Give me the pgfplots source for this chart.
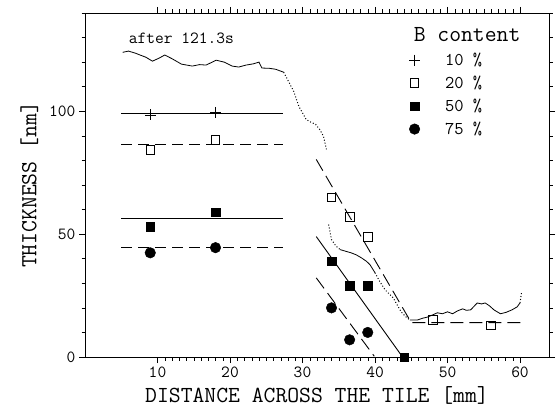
\documentclass[border=0pt]{standalone}
\usepackage{pgfplots}
\pgfplotsset{compat=1.18}

\begin{document}
\begin{tikzpicture}
\begin{axis}[
  scale only axis,
  width=464pt, height=344pt,
  xmin=0, xmax=64, ymin=0, ymax=140,
  xtick={10,20,...,60}, minor x tick num=9,
  ytick={0,50,100}, minor ytick={10,20,...,140},
  tick align=outside, tick pos=both,
  xticklabel pos=bottom, yticklabel pos=left,
  major tick length=6pt, minor tick length=3.5pt,
  axis line style={line width=0.6pt},
  every tick/.style={black, line width=0.5pt},
  /pgf/number format/assume math mode=true,
  ticklabel style={font=\ttfamily\fontsize{17}{17}\selectfont},
  label style={font=\ttfamily\fontsize{23}{23}\selectfont},
  xlabel={DISTANCE ACROSS THE TILE [mm]},
  ylabel={THICKNESS [nm]},
  xlabel style={yshift=-2pt},
  ylabel style={yshift=4pt},
  legend style={draw=none, fill=none, at={(axis cs:44.7,124.5)}, anchor=north west,
    inner sep=0pt, outer sep=0pt,
    font=\ttfamily\fontsize{18}{18}\selectfont, row sep=5pt, cells={anchor=west},
    /tikz/every odd column/.append style={column sep=23pt}},
  legend image code/.code={\draw plot coordinates {(0cm,0cm)};},
]
% measured points, one series per B content
\addplot[only marks, mark=+, mark size=5.5pt, line width=0.6pt] coordinates {(9,98.5)(18,99.6)};
\addlegendentry{10 \%}
\addplot[only marks, mark=square, mark size=4.3pt, line width=0.8pt] coordinates {
  (9,84.2)(18,88.4)(34,65)(36.5,57)(39,49)(48,15)(56,12.8)};
\addlegendentry{20 \%}
\addplot[only marks, mark=square*, mark size=4.3pt] coordinates {
  (9,53)(18,59)(34,39)(36.5,29)(39,29)(44,0)};
\addlegendentry{50 \%}
\addplot[only marks, mark=*, mark size=5.3pt] coordinates {
  (9,42.4)(18,44.5)(34,20)(36.5,7)(39,10)};
\addlegendentry{75 \%}

% fitted lines
\addplot[forget plot, line width=0.9pt] coordinates {(5,99)(27.3,99)};
\addplot[forget plot, line width=0.9pt, dash pattern=on 11pt off 6pt] coordinates {(5,86.5)(27.3,86.5)};
\addplot[forget plot, line width=0.9pt] coordinates {(5,56.5)(27.3,56.5)};
\addplot[forget plot, line width=0.9pt, dash pattern=on 11pt off 6pt] coordinates {(5,44.5)(27.3,44.5)};
\addplot[forget plot, line width=0.9pt, dash pattern=on 13pt off 6pt] coordinates {(31.9,80.4)(45,14)(60.2,14)};
\addplot[forget plot, line width=0.9pt] coordinates {(31.9,49)(43.8,0)};
\addplot[forget plot, line width=0.9pt, dash pattern=on 13pt off 6pt] coordinates {(31.9,32.2)(39.9,0.3)};

% profile after 121.3 s
\addplot[forget plot, line width=0.8pt] coordinates {
  (5.2,124)(6,124.5)(7,123.6)(7.5,123)(8.4,122)(9.3,120.4)(10.2,121.6)(11,122.9)(12,121.4)
  (13.3,119.2)(14.8,118.4)(15.8,119)(16.7,118.8)(17.4,119.8)(18.1,120.8)(19.2,120)(20.3,118.4)
  (21.2,118)(22.2,118.8)(23.2,119.3)(24,120)(24.4,117.6)(25.4,117.5)(26.3,117.1)(27.4,115.9)};
\addplot[forget plot, line width=1pt, dotted] coordinates {
  (27.4,115.9)(28.1,112)(28.8,108)(29.5,102)(30.5,96.7)(31.2,95.5)(31.8,94.7)(32.4,92.5)(32.9,89.8)(33.3,84.5)};
\addplot[forget plot, line width=1pt, dotted] coordinates {
  (33.6,53.9)(34,47.8)(34.6,45.2)(35.2,43.7)};
\addplot[forget plot, line width=0.8pt] coordinates {
  (35.2,43.7)(36,43)(36.7,42.4)(37.4,41.6)(38.1,40.4)(38.8,39)(39.3,37.6)(40,34.3)};
\addplot[forget plot, line width=1pt, dotted] coordinates {
  (40,34.3)(40.7,30.5)(41.4,27.3)(42.5,24.1)(43.1,21)(43.6,18.4)(44.2,16.5)(44.8,15.1)};
\addplot[forget plot, line width=0.8pt] coordinates {
  (44.8,15.1)(45.9,15.1)(46.6,15.8)(47.3,16.3)(48,17.2)(48.6,18)(49.3,17.6)(50,18.4)(50.7,17.6)
  (51.4,18.8)(52.1,19.6)(52.6,19)(53.2,19.2)(54.1,22)(54.7,21.6)(55.2,22)(55.8,20.8)(56.4,19.2)
  (57.3,17.6)(58.1,18.2)(58.9,19.2)(59.6,20.4)(60,22)};
\addplot[forget plot, line width=1pt, dotted] coordinates {(60,22)(60.2,26)};

\node[font=\ttfamily\fontsize{17}{17}\selectfont] at (axis cs:13.3,129.5) {after 121.3s};
\node[font=\ttfamily\fontsize{23}{23}\selectfont] at (axis cs:52.7,131.3) {B content};
\end{axis}
\path (current axis.south west) ++(-85pt,-53pt) coordinate (bl);
\path (current axis.north east) ++(8pt,13pt) coordinate (tr);
\useasboundingbox (bl) rectangle (tr);
\end{tikzpicture}
\end{document}
